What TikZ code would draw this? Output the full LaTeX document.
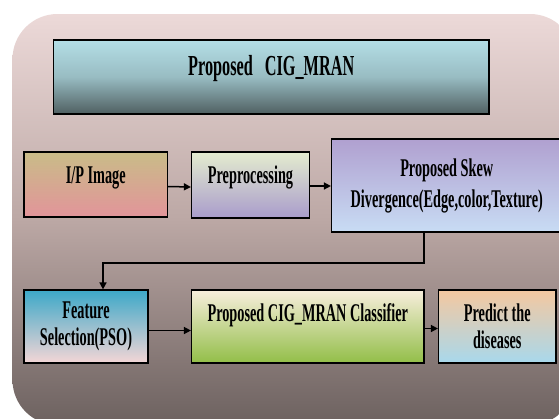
\documentclass[tikz,border=0pt]{standalone}
\usepackage{fontspec}
\setmainfont{Liberation Serif}[FakeStretch=0.56]
\usetikzlibrary{arrows.meta}
\definecolor{bgtop}{HTML}{ECD9D8}
\definecolor{bgmid}{HTML}{BCA8A5}
\definecolor{bgbot}{HTML}{6C615F}
\definecolor{ttop}{HTML}{B4DEE6}
\definecolor{tmid}{HTML}{98BCC2}
\definecolor{tbot}{HTML}{4F5F61}
\definecolor{iptop}{HTML}{C9BC88}
\definecolor{ipbot}{HTML}{E2949A}
\definecolor{pretop}{HTML}{E4ECCF}
\definecolor{prebot}{HTML}{A99CCB}
\definecolor{sktop}{HTML}{B0A0D0}
\definecolor{skbot}{HTML}{C8DCF4}
\definecolor{fetop}{HTML}{3CA8C8}
\definecolor{febot}{HTML}{F4D6D6}
\definecolor{cltop}{HTML}{F8EEDC}
\definecolor{clbot}{HTML}{92BE48}
\definecolor{prtop}{HTML}{F4C8A0}
\definecolor{prbot}{HTML}{A8D8EC}
\tikzset{
  box/.style={draw=black, line width=1.2pt, rectangle, align=center,
    font=\bfseries\fontsize{25.5}{27}\selectfont, inner sep=0pt},
  conn/.style={line width=1.5pt, -{Triangle[length=7pt,width=7pt]}}
}
\begin{document}
\begin{tikzpicture}[x=1pt,y=-1pt]
\useasboundingbox (0,0) rectangle (559,418);
\fill[white] (0,0) rectangle (559,418);
\shade[top color=bgtop, bottom color=bgbot, middle color=bgmid, rounded corners=45pt]
  (12.5,14) rectangle (575,425);

\node[box, minimum width=435.5pt, minimum height=74pt, top color=ttop, bottom color=tbot, middle color=tmid,
  font=\bfseries\fontsize{29}{30}\selectfont, text height=19pt, text depth=23pt]
  (title) at (271.25,77) {Proposed\hspace{8pt} CIG\_MRAN};

\node[box, minimum width=143.5pt, minimum height=65pt, top color=iptop, bottom color=ipbot,
  text height=17pt, text depth=20pt] (ip) at (95.75,184.5) {I/P Image};
\node[box, minimum width=118pt, minimum height=66pt, top color=pretop, bottom color=prebot,
  text height=17pt, text depth=20pt] (pre) at (250.5,185) {Preprocessing};
\node[box, minimum width=230.5pt, minimum height=93pt, top color=sktop, bottom color=skbot,
  font=\bfseries\fontsize{25.5}{31}\selectfont] (skew) at (446.75,185.5)
  {Proposed Skew\\Divergence(Edge,color,Texture)};

\node[box, minimum width=124pt, minimum height=73pt, top color=fetop, bottom color=febot]
  (feat) at (86,326.5) {Feature\\Selection(PSO)};
\node[box, minimum width=232.5pt, minimum height=73pt, top color=cltop, bottom color=clbot,
  text height=17pt, text depth=27pt] (cls) at (307.75,326.5) {Proposed CIG\_MRAN Classifier};
\node[box, minimum width=117.5pt, minimum height=73pt, top color=prtop, bottom color=prbot]
  (pred) at (497.25,326.5) {Predict the\\diseases};

\draw[conn] ([yshift=-2pt]ip.east) -- ([yshift=-2pt]pre.west);
\draw[conn] ([yshift=-1pt]pre.east) -- ([yshift=-1pt]pre.east -| skew.west);
\coordinate (bend) at (424,263);
\draw[conn] (skew.south -| bend) -- (bend) -| ([xshift=17pt]feat.north);
\draw[conn] ([yshift=-4pt]feat.east) -- ([yshift=-4pt]feat.east -| cls.west);
\draw[conn] ([yshift=-2pt]cls.east) -- ([yshift=-2pt]cls.east -| pred.west);
\end{tikzpicture}
\end{document}
